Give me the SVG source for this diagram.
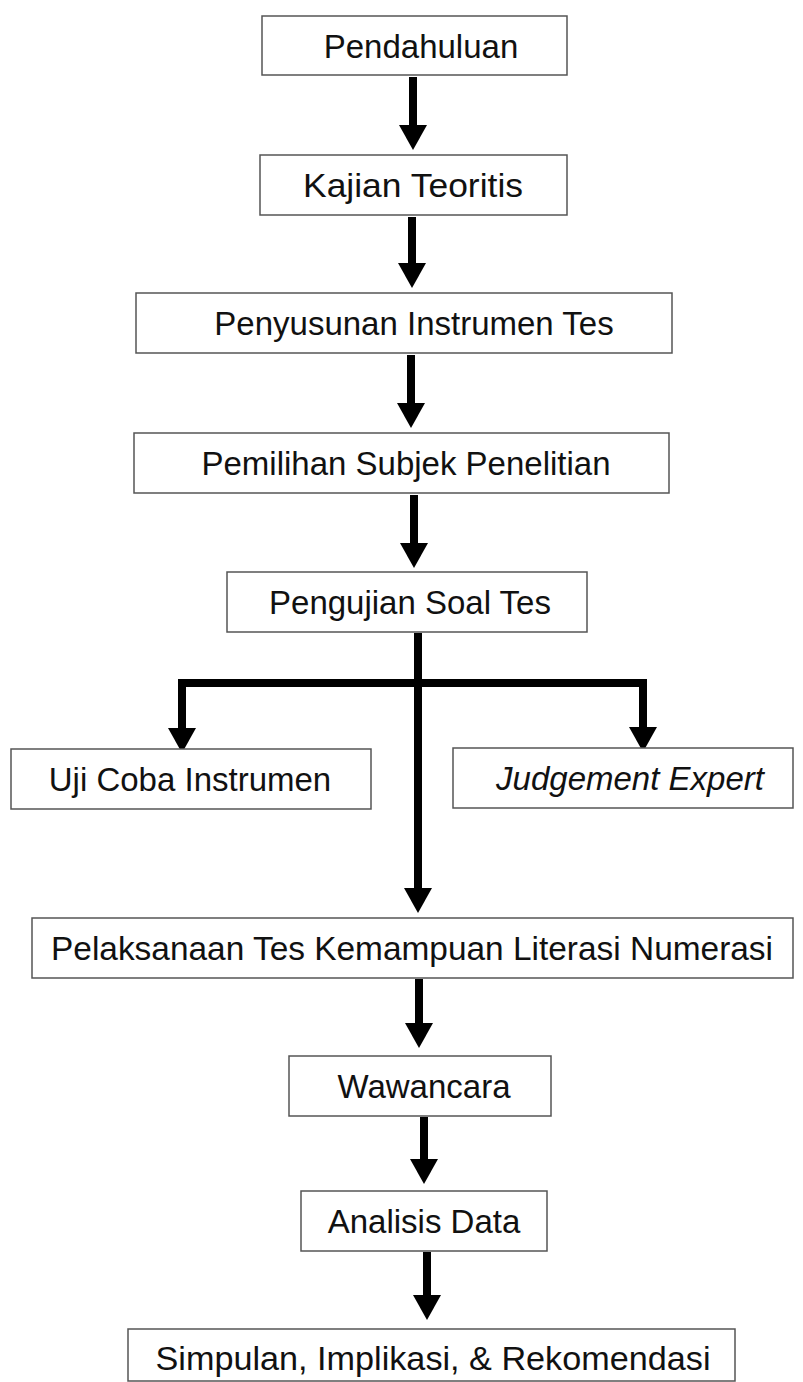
<svg xmlns="http://www.w3.org/2000/svg" width="803" height="1382" viewBox="0 0 803 1382">
<style>
.box{fill:#fff;stroke:#555;stroke-width:1.5}
.t{font-family:"Liberation Sans",Arial,sans-serif;font-size:33px;fill:#111;text-anchor:middle;dominant-baseline:central}
.b{font-size:34px}
.i{font-style:italic}
.c{fill:none;stroke:#000;stroke-width:8}
</style>
<defs>
<marker id="ah" markerUnits="userSpaceOnUse" markerWidth="26" markerHeight="28" viewBox="0 0 25 28" refX="3" refY="14" orient="auto">
<path d="M0,0 L25,14 L0,28 z" fill="#000"/>
</marker>
</defs>
<rect width="803" height="1382" fill="#fff"/>
<g id="connectors">
<path class="c" d="M413,77 V128" marker-end="url(#ah)"/>
<path class="c" d="M412,217 V266" marker-end="url(#ah)"/>
<path class="c" d="M411,355 V406" marker-end="url(#ah)"/>
<path class="c" d="M414,495 V546" marker-end="url(#ah)"/>
<path class="c" d="M418,633 V891" marker-end="url(#ah)"/>
<path class="c" d="M182,731 V683 H643 V730" marker-end="url(#ah)"/>
<path class="c" d="M182,683 V731" marker-end="url(#ah)"/>
<path class="c" d="M419,979 V1026" marker-end="url(#ah)"/>
<path class="c" d="M424,1117 V1162" marker-end="url(#ah)"/>
<path class="c" d="M427,1252 V1298" marker-end="url(#ah)"/>
</g>
<g id="n1"><rect class="box" x="262" y="16" width="305" height="59"/><text class="t" x="421" y="46">Pendahuluan</text></g>
<g id="n2"><rect class="box" x="260" y="155" width="307" height="60"/><text class="t b" x="413" y="185" textLength="220" lengthAdjust="spacingAndGlyphs">Kajian Teoritis</text></g>
<g id="n3"><rect class="box" x="136" y="293" width="536" height="60"/><text class="t" x="414" y="323">Penyusunan Instrumen Tes</text></g>
<g id="n4"><rect class="box" x="134" y="433" width="535" height="60"/><text class="t" x="406" y="463">Pemilihan Subjek Penelitian</text></g>
<g id="n5"><rect class="box" x="227" y="572" width="360" height="60"/><text class="t" x="410" y="602">Pengujian Soal Tes</text></g>
<g id="n6"><rect class="box" x="11" y="749" width="360" height="60"/><text class="t" x="190" y="779">Uji Coba Instrumen</text></g>
<g id="n7"><rect class="box" x="453" y="748" width="340" height="60"/><text class="t i" x="630" y="778">Judgement Expert</text></g>
<g id="n8"><rect class="box" x="32" y="918" width="761" height="60"/><text class="t" x="412" y="948" textLength="722" lengthAdjust="spacingAndGlyphs">Pelaksanaan Tes Kemampuan Literasi Numerasi</text></g>
<g id="n9"><rect class="box" x="289" y="1056" width="262" height="60"/><text class="t" x="424" y="1086">Wawancara</text></g>
<g id="n10"><rect class="box" x="301" y="1191" width="246" height="60"/><text class="t" x="424" y="1221">Analisis Data</text></g>
<g id="n11"><rect class="box" x="128" y="1329" width="607" height="52"/><text class="t b" x="433" y="1358" textLength="555" lengthAdjust="spacingAndGlyphs">Simpulan, Implikasi, &amp; Rekomendasi</text></g>
</svg>
